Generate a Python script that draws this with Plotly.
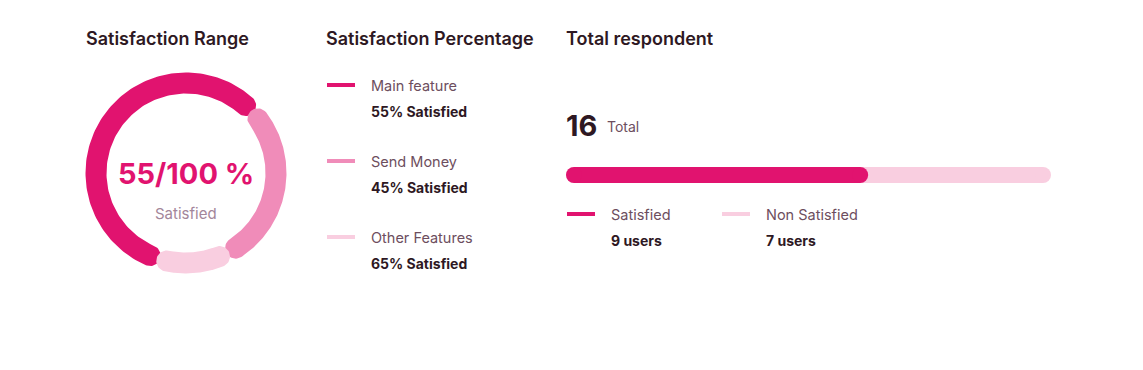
import numpy as np
import plotly.graph_objects as go

# ---------------- data ----------------
features = ["Main feature", "Send Money", "Other Features"]
feature_satisfaction = [55, 45, 65]          # % satisfied (legend text)
ring_share = [55, 26, 9.5]                    # % of the ring each arc covers
ring_gap = 3.2                                # % of ring between arcs
ring_colors = ["#E1136F", "#F08CB9", "#F9CEE0"]

score = 55
score_max = 100

respondent_labels = ["Satisfied", "Non Satisfied"]
respondent_counts = [9, 7]
respondent_colors = ["#E1136F", "#F9CEE0"]
bar_scale_max = 14.75                          # scale of the progress track

OFF = 8                      # page body margin
W, H = 1143 - OFF, 370 - OFF
DARK = "#2E1823"
MUTED = "#6D4E5E"
FONT = "Inter"

fig = go.Figure()


def px(v):
    return v - OFF


# ---------------- donut (pixel axis x/y) ----------------
cx, cy, R, hw = px(186), px(173), 90, 10.5
start = 246.5  # degrees, sweep clockwise


def arc_poly(a0, a1, n=120):
    a0r, a1r = np.radians(a0), np.radians(a1)
    ts = np.linspace(a0r, a1r, n)
    xs, ys = [], []
    xs += list((R + hw) * np.cos(ts)); ys += list((R + hw) * np.sin(ts))
    c = np.array([R * np.cos(a1r), R * np.sin(a1r)])
    u = np.array([np.cos(a1r), np.sin(a1r)]); t = np.array([np.sin(a1r), -np.cos(a1r)])
    for th in np.linspace(0, np.pi, 30):
        p = c + hw * (u * np.cos(th) + t * np.sin(th))
        xs.append(p[0]); ys.append(p[1])
    xs += list((R - hw) * np.cos(ts[::-1])); ys += list((R - hw) * np.sin(ts[::-1]))
    c = np.array([R * np.cos(a0r), R * np.sin(a0r)])
    u = np.array([np.cos(a0r), np.sin(a0r)]); t = np.array([np.sin(a0r), -np.cos(a0r)])
    for th in np.linspace(0, np.pi, 30):
        p = c + hw * (-u * np.cos(th) - t * np.sin(th))
        xs.append(p[0]); ys.append(p[1])
    xs = [cx + v for v in xs]
    ys = [cy - v for v in ys]
    return xs, ys


a = start
for i in range(len(features)):
    span = ring_share[i] * 3.6
    xs, ys = arc_poly(a, a - span)
    fig.add_trace(go.Scatter(x=xs, y=ys, fill="toself", fillcolor=ring_colors[i],
                             mode="lines", line=dict(width=0, color=ring_colors[i]),
                             hoverinfo="skip", showlegend=False, xaxis="x", yaxis="y"))
    a = a - span - ring_gap * 3.6

# ---------------- progress bar (axis x2/y2) ----------------
track_color = respondent_colors[1]
fig.add_trace(go.Scatter(x=[0, bar_scale_max], y=[0, 0], mode="lines+markers",
                         line=dict(width=16, color=track_color),
                         marker=dict(size=16, color=track_color, line=dict(width=0)),
                         cliponaxis=False,
                         hoverinfo="skip", showlegend=False, xaxis="x2", yaxis="y2"))
fig.add_trace(go.Scatter(x=[0, respondent_counts[0]], y=[0, 0], mode="lines+markers",
                         line=dict(width=16, color=respondent_colors[0]),
                         marker=dict(size=16, color=respondent_colors[0], line=dict(width=0)),
                         cliponaxis=False,
                         hoverinfo="skip", showlegend=False, xaxis="x2", yaxis="y2"))

# ---------------- texts ----------------
ann = []


def txt(x, y, s, size, color, weight=400, anchor="left"):
    ann.append(dict(x=px(x), y=px(y), xref="x", yref="y", text=s, showarrow=False,
                    xanchor=anchor, yanchor="middle",
                    font=dict(family=FONT, size=size, color=color, weight=weight)))


txt(84, 38, "Satisfaction Range", 18, DARK, 600)
txt(324, 38, "Satisfaction Percentage", 18, DARK, 600)
txt(564, 38, "Total respondent", 18, DARK, 600)

txt(186, 173, f"{score}/{score_max} %", 29, ring_colors[0], 700, "center")
txt(186, 213, "Satisfied", 15, "#A3869A", 400, "center")

shapes = []
for i, name in enumerate(features):
    y0 = 85 + 76 * i
    shapes.append(dict(type="line", xref="x", yref="y", x0=px(327), x1=px(355),
                       y0=px(y0), y1=px(y0),
                       line=dict(color=ring_colors[i], width=4)))
    txt(369, y0, name, 14.5, MUTED, 400)
    txt(369, y0 + 26, f"{feature_satisfaction[i]}% Satisfied", 14, DARK, 700)

total = sum(respondent_counts)
txt(564, 125, f"{total}", 29, DARK, 700)
txt(605, 126, "Total", 14, MUTED, 400)

for i, lab in enumerate(respondent_labels):
    x0 = 566 + 155 * i
    shapes.append(dict(type="line", xref="x", yref="y", x0=px(x0 + 1), x1=px(x0 + 29),
                       y0=px(214), y1=px(214),
                       line=dict(color=respondent_colors[i], width=4)))
    txt(x0 + 43, 214, lab, 14.5, MUTED, 400)
    txt(x0 + 43, 240, f"{respondent_counts[i]} users", 14, DARK, 700)

fig.update_layout(
    width=W, height=H, margin=dict(l=0, r=0, t=0, b=0),
    paper_bgcolor="white", plot_bgcolor="rgba(0,0,0,0)",
    xaxis=dict(domain=[0, 1], range=[0, W], visible=False, fixedrange=True),
    yaxis=dict(domain=[0, 1], range=[H, 0], visible=False, fixedrange=True),
    xaxis2=dict(domain=[px(574) / W, px(1043) / W], range=[0, bar_scale_max], visible=False,
                anchor="y2", fixedrange=True),
    yaxis2=dict(domain=[1 - px(185) / H, 1 - px(165) / H], range=[-1, 1], visible=False,
                anchor="x2", fixedrange=True),
    annotations=ann, shapes=shapes, showlegend=False,
)

fig.write_html("out.html")
